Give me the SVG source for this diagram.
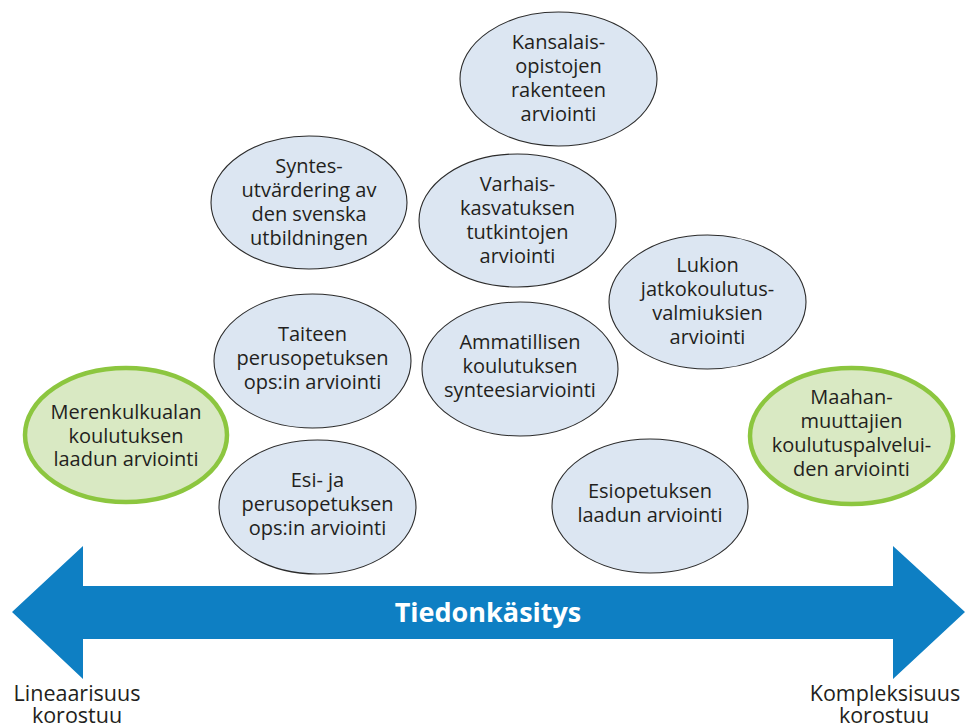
<svg xmlns="http://www.w3.org/2000/svg" width="966" height="728" viewBox="0 0 966 728">
<style>
.b{fill:#dce6f2;stroke:#2b2b2b;stroke-width:1.1}
.g{fill:#d9e9c3;stroke:#8cc63f;stroke-width:4.5}
text{font-family:"Open Sans","Liberation Sans",sans-serif;font-size:20px;fill:#231f20;text-anchor:middle}
.lbl{font-size:21.5px}
.t{font-size:27px;font-weight:bold;fill:#ffffff}
</style>
<rect width="966" height="728" fill="#ffffff"/>
<g id="connectors">
<polygon points="12,612 83,546 83,586 893,586 893,546 965,612 893,679 893,639 83,639 83,679" fill="#0e7fc3"/>
<text class="t" x="488" y="622">Tiedonkäsitys</text>
</g>
<g id="kansalais">
<ellipse class="b" cx="558.5" cy="79" rx="98.5" ry="67"/>
<text x="558.5" y="49">Kansalais-</text>
<text x="558.5" y="73">opistojen</text>
<text x="558.5" y="97">rakenteen</text>
<text x="558.5" y="121">arviointi</text>
</g>
<g id="syntes">
<ellipse class="b" cx="309" cy="202.5" rx="98" ry="66.5"/>
<text x="309" y="173">Syntes-</text>
<text x="309" y="197">utvärdering av</text>
<text x="309" y="221">den svenska</text>
<text x="309" y="245">utbildningen</text>
</g>
<g id="varhais">
<ellipse class="b" cx="517.5" cy="220.5" rx="98.5" ry="66.5"/>
<text x="517.5" y="191">Varhais-</text>
<text x="517.5" y="215">kasvatuksen</text>
<text x="517.5" y="239">tutkintojen</text>
<text x="517.5" y="263">arviointi</text>
</g>
<g id="lukion">
<ellipse class="b" cx="707.5" cy="302" rx="98.5" ry="67"/>
<text x="707.5" y="272">Lukion</text>
<text x="707.5" y="296">jatkokoulutus-</text>
<text x="707.5" y="320">valmiuksien</text>
<text x="707.5" y="344">arviointi</text>
</g>
<g id="taiteen">
<ellipse class="b" cx="312.5" cy="361" rx="98.5" ry="67"/>
<text x="312.5" y="341">Taiteen</text>
<text x="312.5" y="365">perusopetuksen</text>
<text x="312.5" y="389">ops:in arviointi</text>
</g>
<g id="ammatillisen">
<ellipse class="b" cx="520" cy="369" rx="98" ry="67"/>
<text x="520" y="349">Ammatillisen</text>
<text x="520" y="373">koulutuksen</text>
<text x="520" y="397">synteesiarviointi</text>
</g>
<g id="merenkulkualan">
<ellipse class="g" cx="126" cy="435" rx="101" ry="67"/>
<text x="126" y="419">Merenkulkualan</text>
<text x="126" y="443">koulutuksen</text>
<text x="126" y="466">laadun arviointi</text>
</g>
<g id="esija">
<ellipse class="b" cx="317.5" cy="507" rx="98.5" ry="67"/>
<text x="317.5" y="487">Esi- ja</text>
<text x="317.5" y="511">perusopetuksen</text>
<text x="317.5" y="535">ops:in arviointi</text>
</g>
<g id="esiopetuksen">
<ellipse class="b" cx="650" cy="506" rx="98" ry="67"/>
<text x="650" y="498">Esiopetuksen</text>
<text x="650" y="522">laadun arviointi</text>
</g>
<g id="maahan">
<ellipse class="g" cx="851.5" cy="436" rx="101.5" ry="68"/>
<text x="851.5" y="404">Maahan-</text>
<text x="851.5" y="428">muuttajien</text>
<text x="851.5" y="452">koulutuspalvelui-</text>
<text x="851.5" y="476">den arviointi</text>
</g>
<g id="labels">
<text class="lbl" x="77" y="701">Lineaarisuus</text>
<text class="lbl" x="77" y="723">korostuu</text>
<text class="lbl" x="885" y="701">Kompleksisuus</text>
<text class="lbl" x="884" y="723">korostuu</text>
</g>
</svg>
